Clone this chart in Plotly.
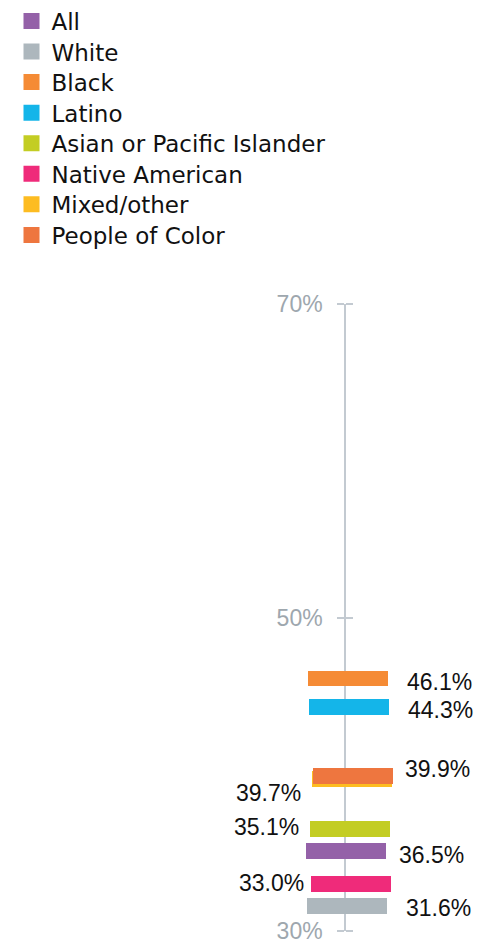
import plotly.graph_objects as go

# ---- data ----
groups = ["All", "White", "Black", "Latino", "Asian or Pacific Islander",
          "Native American", "Mixed/other", "People of Color"]
values = [35.1, 31.6, 46.1, 44.3, 36.5, 33.0, 39.7, 39.9]          # bar positions (%)
label_text = ["36.5%", "31.6%", "46.1%", "44.3%", "35.1%", "33.0%", "39.7%", "39.9%"]
tick_vals = [30, 50, 70]
tick_text = ["30%", "50%", "70%"]

# ---- styling / layout (not data) ----
colors = ["#9461a8", "#adb7bd", "#f58b35", "#14b5e9", "#c3cd23",
          "#ef2b7a", "#fdbc21", "#ee763f"]
bar_left = [306, 307, 308, 309, 310, 311, 312, 313]   # screen-px x offsets
bar_len = 80
label_side = ["right", "right", "right", "right", "left", "left", "left", "right"]
label_x = [397, 404, 405, 406, 301, 306, 303, 403]
label_y = [34.85, 31.47, 45.89, 44.10, 36.63, 33.06, 38.80, 40.33]

PAGE_OFF = 8                      # default body margin of the html page
W, H = 485 - PAGE_OFF, 945 - PAGE_OFF
top_px, bot_px = 304 - PAGE_OFF, 931 - PAGE_OFF
plot_h = bot_px - top_px
axis_x = 345 - PAGE_OFF
axis_col = "#c3cad1"
legend_row0, legend_step, legend_off = 20.5 - PAGE_OFF, 30.57, 21.0
legend_font = dict(family="DejaVu Sans", size=23, color="#111111")

fig = go.Figure()

for i, g in enumerate(groups):
    fig.add_trace(go.Bar(
        y=[values[i]], x=[bar_len], base=[bar_left[i]], orientation="h",
        width=1.0, marker=dict(color=colors[i], line=dict(width=0)),
        name=g, showlegend=False, hoverinfo="skip"))

# legend entries (square swatches), one legend per row for exact spacing
legends = {}
for i, g in enumerate(groups):
    key = "legend" if i == 0 else f"legend{i + 1}"
    fig.add_trace(go.Scatter(
        x=[None], y=[None], mode="markers", name=g, legend=key,
        marker=dict(symbol="square", size=16, color=colors[i]),
        hoverinfo="skip"))
    top = legend_row0 + legend_step * i - legend_off
    legends[key] = dict(
        xref="container", yref="paper", x=3.5 / W,
        y=(bot_px - top) / plot_h,
        xanchor="left", yanchor="top", font=legend_font,
        itemsizing="trace", bgcolor="rgba(0,0,0,0)", borderwidth=0)

# dummy trace for the right-side tick axis
fig.add_trace(go.Scatter(x=[None], y=[None], yaxis="y2", showlegend=False,
                         hoverinfo="skip"))

annotations = []
for i in range(len(groups)):
    annotations.append(dict(
        x=label_x[i], y=label_y[i], xref="x", yref="y",
        text=label_text[i], showarrow=False,
        xanchor="left" if label_side[i] == "right" else "right",
        yanchor="middle",
        font=dict(family="Liberation Sans, Arial", size=23, color="#111111")))

fig.update_layout(
    width=W, height=H,
    margin=dict(l=0, r=0, t=top_px, b=H - bot_px, pad=0, autoexpand=False),
    paper_bgcolor="white", plot_bgcolor="white",
    barmode="overlay", bargap=0,
    showlegend=True,
    xaxis=dict(range=[PAGE_OFF, 485], visible=False, fixedrange=True),
    yaxis=dict(
        range=[30, 70], anchor="free", position=axis_x / W, side="left",
        showline=True, linecolor=axis_col, linewidth=1.5,
        ticks="outside", ticklen=7, tickwidth=1.5, tickcolor=axis_col,
        tickvals=tick_vals, ticktext=tick_text, ticklabelstandoff=10,
        tickfont=dict(family="Liberation Sans, Arial", size=23, color="#9ea7ae"),
        showgrid=False, zeroline=False, layer="below traces", automargin=False),
    yaxis2=dict(
        range=[30, 70], anchor="free", position=axis_x / W, side="right",
        overlaying="y", showline=False,
        ticks="outside", ticklen=7, tickwidth=1.5, tickcolor=axis_col,
        tickvals=tick_vals, showticklabels=False,
        showgrid=False, zeroline=False, layer="below traces", automargin=False),
    annotations=annotations,
    **legends,
)

fig.write_html("out.html")
